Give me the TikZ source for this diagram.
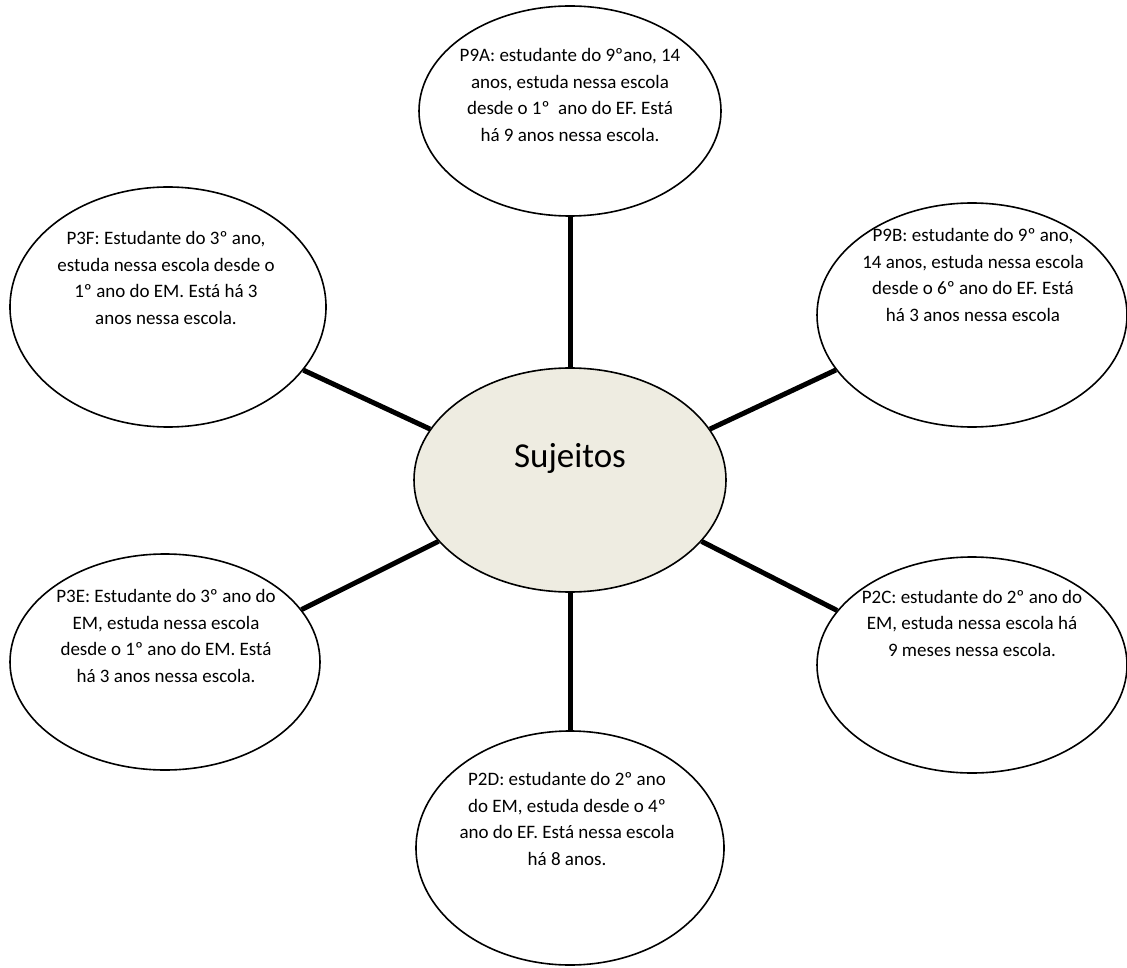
\documentclass[tikz,border=0pt]{standalone}
\usepackage{fontspec}
\setmainfont{Carlito}
\usepackage{tikz}
\usetikzlibrary{shapes.geometric}
\definecolor{Fondo}{HTML}{EEECE1}
\pgfdeclarelayer{lineas_layer}
\pgfdeclarelayer{esquema}
\pgfsetlayers{lineas_layer,esquema,main}
\tikzstyle{burbuja}=[ellipse,draw=black,fill=white,line width=0.8pt,inner sep=0pt]
\tikzstyle{central}=[burbuja,fill=Fondo]
\tikzstyle{texto}=[inner sep=0pt,align=center,font=\fontsize{9.5}{13.25}\selectfont]
\tikzstyle{titulo}=[inner sep=0pt,font=\fontsize{17.5}{20}\selectfont]
\tikzstyle{line}=[draw=black,line width=2.5pt]

\begin{document}
\begin{tikzpicture}[x=0.5pt,y=-0.5pt]
		\useasboundingbox (0,0) rectangle (1127,967);
		\begin{pgfonlayer}{esquema}
			\node [style=central,minimum width=156pt,minimum height=112pt] (sujeitos) at (570,480) {};
			\node [style=burbuja,minimum width=151pt,minimum height=105pt] (p9a) at (570,111) {};
			\node [style=burbuja,minimum width=155pt,minimum height=112pt] (p9b) at (972,315) {};
			\node [style=burbuja,minimum width=158pt,minimum height=120pt] (p3f) at (168,307) {};
			\node [style=burbuja,minimum width=155pt,minimum height=108pt] (p3e) at (165,662) {};
			\node [style=burbuja,minimum width=155pt,minimum height=108pt] (p2c) at (972,665) {};
			\node [style=burbuja,minimum width=154pt,minimum height=117pt] (p2d) at (570,848) {};
		\end{pgfonlayer}
		\node [style=titulo] (t_sujeitos) at (570,458) {Sujeitos};
		\node [style=texto] (t_p9a) at (570,95) {P9A: estudante do 9ºano, 14\\anos, estuda nessa escola\\desde o 1º\ \ ano do EF. Está\\há 9 anos nessa escola.};
		\node [style=texto] (t_p9b) at (973,275) {P9B: estudante do 9º ano,\\14 anos, estuda nessa escola\\desde o 6º ano do EF. Está\\há 3 anos nessa escola};
		\node [style=texto] (t_p3f) at (166,278) {P3F: Estudante do 3º ano,\\estuda nessa escola desde o\\1º ano do EM. Está há 3\\anos nessa escola.};
		\node [style=texto] (t_p3e) at (166,636) {P3E: Estudante do 3º ano do\\EM, estuda nessa escola\\desde o 1º ano do EM. Está\\há 3 anos nessa escola.};
		\node [style=texto] (t_p2c) at (972,623) {P2C: estudante do 2º ano do\\EM, estuda nessa escola há\\9 meses nessa escola.};
		\node [style=texto] (t_p2d) at (567,819) {P2D: estudante do 2º ano\\do EM, estuda desde o 4º\\ano do EF. Está nessa escola\\há 8 anos.};
		\begin{pgfonlayer}{lineas_layer}
			 \path [style=line] (sujeitos.north) -- (p9a.south);
			 \path [style=line] (sujeitos.south) -- (p2d.north);
			 \path [style=line] (sujeitos.160) -- (p3f.-25);
			 \path [style=line] (sujeitos.20) -- (p9b.202);
			 \path [style=line] (sujeitos.205) -- (p3e.21);
			 \path [style=line] (sujeitos.-25) -- (p2c.158);
		\end{pgfonlayer}
\end{tikzpicture}
\end{document}
